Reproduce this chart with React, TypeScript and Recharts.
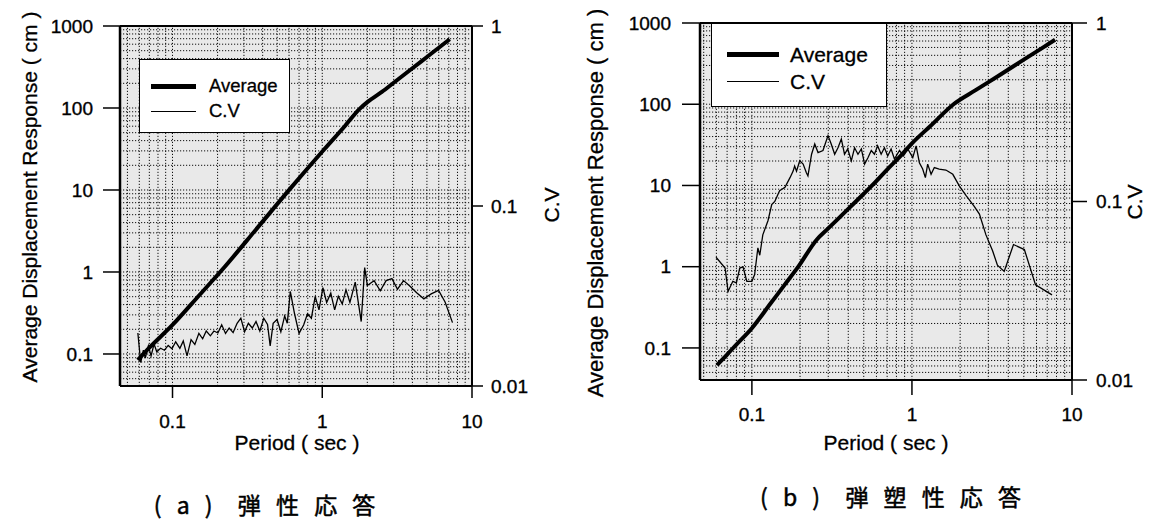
import { CartesianGrid, Line, LineChart, ReferenceLine, XAxis, YAxis } from 'recharts';

const font = '"Liberation Sans", Arial, Helvetica, sans-serif';
const cjkFont = '"Noto Sans CJK JP", "Noto Sans CJK SC", sans-serif';

// (a) elastic response
const avgPeriodA = [0.0587, 0.0706, 0.1, 0.152, 0.2227, 0.371, 0.617, 1.035, 1.413, 1.77, 2.0, 2.5, 3.0, 4.0, 5.0, 6.0, 7.1];
const avgA = [0.0845, 0.121, 0.226, 0.528, 1.15, 3.5, 10.6, 31.6, 60, 97, 118, 157, 203, 305, 419, 543, 690];

const cvPeriodA = [
  0.0587, 0.0613, 0.0639, 0.0658, 0.069, 0.0719, 0.0753, 0.0785, 0.0832, 0.0883, 0.0936, 0.0992,
  0.105, 0.112, 0.118, 0.125, 0.133, 0.141, 0.15, 0.159, 0.168, 0.179, 0.189, 0.201, 0.213, 0.226,
  0.239, 0.254, 0.27, 0.286, 0.303, 0.321, 0.341, 0.361, 0.383, 0.407, 0.431, 0.449, 0.47, 0.499,
  0.529, 0.561, 0.584, 0.612, 0.653, 0.7, 0.751, 0.797, 0.846, 0.897, 0.951, 1.01, 1.07, 1.14, 1.21,
  1.28, 1.36, 1.44, 1.53, 1.66, 1.82, 1.92, 2.0, 2.22, 2.44, 2.67, 2.92, 3.18, 3.49, 3.81, 4.27,
  4.77, 5.34, 5.98, 6.61, 7.41,
];
const cvA = [
  0.0197, 0.0135, 0.0158, 0.0143, 0.0167, 0.0147, 0.0171, 0.0155, 0.0162, 0.0158, 0.0168, 0.0161,
  0.0176, 0.0162, 0.0178, 0.0147, 0.0181, 0.017, 0.0196, 0.0183, 0.0202, 0.019, 0.0202, 0.0197, 0.0219, 0.0196,
  0.021, 0.0198, 0.0223, 0.0238, 0.02, 0.0223, 0.021, 0.0228, 0.0202, 0.0238, 0.022, 0.0167, 0.0223, 0.0234,
  0.02, 0.0245, 0.0223, 0.0335, 0.0252, 0.0196, 0.0218, 0.0252, 0.0238, 0.0315, 0.0265, 0.0352, 0.0291, 0.0328, 0.0265,
  0.0315, 0.0286, 0.0342, 0.0291, 0.0378, 0.0228, 0.0455, 0.0362, 0.0385, 0.0338, 0.0385, 0.0395, 0.0345, 0.0385, 0.0362, 0.033,
  0.0305, 0.0325, 0.034, 0.0293, 0.0225,
];

// (b) elasto-plastic response
const avgPeriodB = [0.0605, 0.07, 0.08, 0.1, 0.13, 0.16, 0.195, 0.254, 0.3, 0.4, 0.5, 0.564, 0.7, 0.85, 1.0, 1.3, 1.82, 2.5, 3.5, 5.0, 6.5, 7.84];
const avgB = [0.0616, 0.083, 0.11, 0.175, 0.347, 0.597, 1.0, 2.15, 2.96, 5.15, 7.9, 10, 15.7, 23.2, 33, 53.6, 100, 149, 226, 354, 491, 622];

const cvPeriodB = [
  0.0597, 0.068, 0.071, 0.076, 0.08, 0.084, 0.088, 0.093, 0.1, 0.104, 0.109, 0.112, 0.117, 0.126,
  0.133, 0.139, 0.149, 0.161, 0.173, 0.181, 0.185, 0.19, 0.199, 0.209, 0.219, 0.224, 0.236, 0.247,
  0.259, 0.278, 0.299, 0.313, 0.329, 0.345, 0.362, 0.379, 0.397, 0.418, 0.438, 0.46, 0.483, 0.506,
  0.531, 0.557, 0.583, 0.61, 0.642, 0.673, 0.706, 0.741, 0.777, 0.836, 0.885, 0.942, 1.012, 1.062,
  1.113, 1.167, 1.213, 1.254, 1.317, 1.38, 1.48, 1.63, 1.8, 1.98, 2.18, 2.45, 2.64, 2.9, 3.19, 3.42,
  3.77, 4.31, 5.04, 5.92, 7.5,
];
const cvB = [
  0.0487, 0.0424, 0.0313, 0.0357, 0.035, 0.0424, 0.043, 0.0357, 0.0357, 0.039, 0.055, 0.05, 0.065, 0.078,
  0.096, 0.1, 0.115, 0.12, 0.136, 0.148, 0.158, 0.148, 0.169, 0.162, 0.145, 0.139, 0.184, 0.21,
  0.188, 0.193, 0.234, 0.21, 0.184, 0.2, 0.224, 0.184, 0.197, 0.169, 0.2, 0.184, 0.197, 0.162,
  0.176, 0.193, 0.184, 0.205, 0.184, 0.2, 0.18, 0.197, 0.173, 0.193, 0.18, 0.197, 0.176, 0.205,
  0.165, 0.152, 0.136, 0.162, 0.142, 0.155, 0.152, 0.15, 0.142, 0.122, 0.108, 0.094, 0.085, 0.065, 0.053, 0.044,
  0.0406, 0.0574, 0.0538, 0.0341, 0.03,
];

const periodTicks = [0.1, 1, 10];
const dispTicks = [0.1, 1, 10, 100, 1000];
const cvTicks = [0.01, 0.1, 1];
const periodGrid = [0.05, 0.06, 0.07, 0.08, 0.09, 0.1, 0.2, 0.3, 0.4, 0.5, 0.6, 0.7, 0.8, 0.9, 1, 2, 3, 4, 5, 6, 7, 8, 9];
const dispGrid = [
  0.05, 0.06, 0.07, 0.08, 0.09, 0.1, 0.2, 0.3, 0.4, 0.5, 0.6, 0.7, 0.8, 0.9,
  1, 2, 3, 4, 5, 6, 7, 8, 9, 10, 20, 30, 40, 50, 60, 70, 80, 90,
  100, 200, 300, 400, 500, 600, 700, 800, 900,
];

const zip = (ts: number[], vs: number[]) => ts.map((t, i) => ({ t, v: vs[i] }));

interface PanelProps {
  left: number;
  width: number;
  top: number;
  leftAxisWidth: number;
  rightAxisWidth: number;
  xAxisHeight: number;
  periodMin: number;
  dispMin: number;
  avg: { t: number; v: number }[];
  cv: { t: number; v: number }[];
  leftTick: [number, number];
  rightTick: [number, number];
  bottomTick: [number, number];
  tickFont: number;
}

function Panel(p: PanelProps) {
  const tickStyle = { fontSize: p.tickFont, fill: '#000', fontFamily: font, stroke: '#000', strokeWidth: 0.35 };
  return (
    <div style={{ position: 'absolute', left: p.left, top: 0 }}>
      <LineChart width={p.width} height={520} margin={{ top: p.top, right: 0, bottom: 0, left: 0 }}>
        <CartesianGrid yAxisId="disp" horizontal={false} vertical={false} fill="#e9e9e9" />
        <XAxis
          dataKey="t"
          type="number"
          scale="log"
          domain={[p.periodMin, 10]}
          allowDataOverflow
          ticks={periodTicks}
          tickFormatter={(v) => String(v)}
          height={p.xAxisHeight}
          tickSize={p.bottomTick[0]}
          tickMargin={p.bottomTick[1]}
          tick={tickStyle}
          axisLine={{ stroke: '#000', strokeWidth: 2 }}
          tickLine={{ stroke: '#000', strokeWidth: 1.5 }}
        />
        <YAxis
          yAxisId="disp"
          type="number"
          scale="log"
          domain={[p.dispMin, 1000]}
          allowDataOverflow
          ticks={dispTicks}
          tickFormatter={(v) => String(v)}
          width={p.leftAxisWidth}
          tickSize={p.leftTick[0]}
          tickMargin={p.leftTick[1]}
          tick={tickStyle}
          axisLine={{ stroke: '#000', strokeWidth: 2.5 }}
          tickLine={{ stroke: '#000', strokeWidth: 1.5 }}
        />
        <YAxis
          yAxisId="cv"
          orientation="right"
          type="number"
          scale="log"
          domain={[0.01, 1]}
          allowDataOverflow
          ticks={cvTicks}
          tickFormatter={(v) => String(v)}
          width={p.rightAxisWidth}
          tickSize={p.rightTick[0]}
          tickMargin={p.rightTick[1]}
          tick={{ ...tickStyle, textAnchor: 'start' }}
          axisLine={{ stroke: '#000', strokeWidth: 2 }}
          tickLine={{ stroke: '#000', strokeWidth: 1.5 }}
        />
        {periodGrid.map((x) => (
          <ReferenceLine key={`x${x}`} x={x} yAxisId="disp" stroke="#111" strokeWidth={1} strokeDasharray="1.2 1.8" />
        ))}
        {dispGrid.map((y) => (
          <ReferenceLine key={`y${y}`} y={y} yAxisId="disp" stroke="#111" strokeWidth={1} strokeDasharray="1.2 1.8" />
        ))}
        <ReferenceLine y={1000} yAxisId="disp" stroke="#000" strokeWidth={2} />
        <Line
          data={p.cv}
          dataKey="v"
          yAxisId="cv"
          type="linear"
          stroke="#000"
          strokeWidth={1.3}
          dot={false}
          isAnimationActive={false}
        />
        <Line
          data={p.avg}
          dataKey="v"
          yAxisId="disp"
          type="monotone"
          stroke="#000"
          strokeWidth={4}
          dot={false}
          isAnimationActive={false}
        />
      </LineChart>
    </div>
  );
}

function Legend({ x, y, w, h, lineX, lineW, rowY, textX, size }: { x: number; y: number; w: number; h: number; lineX: number; lineW: number; rowY: [number, number]; textX: number; size: number }) {
  return (
    <div
      style={{
        position: 'absolute',
        left: x,
        top: y,
        width: w,
        height: h,
        boxSizing: 'border-box',
        border: '1.5px solid #000',
        background: '#fff',
        fontFamily: font,
        fontSize: size,
        color: '#000',
        WebkitTextStroke: '0.3px #000',
      }}
    >
      <div style={{ position: 'absolute', left: lineX, top: rowY[0] - 2.5, width: lineW, height: 5, background: '#000' }} />
      <div style={{ position: 'absolute', left: textX, top: rowY[0], transform: 'translateY(-50%)', lineHeight: 1 }}>Average</div>
      <div style={{ position: 'absolute', left: lineX, top: rowY[1] - 0.5, width: lineW, height: 1.3, background: '#000' }} />
      <div style={{ position: 'absolute', left: textX, top: rowY[1], transform: 'translateY(-50%)', lineHeight: 1 }}>C.V</div>
    </div>
  );
}

function Title({ text, cx, cy, size, rotate, family = font, spacing = 0, stroke = 0.3 }: { text: string; cx: number; cy: number; size: number; rotate?: boolean; family?: string; spacing?: number; stroke?: number }) {
  return (
    <div
      style={{
        position: 'absolute',
        left: cx,
        top: cy,
        transform: `translate(-50%, -50%)${rotate ? ' rotate(-90deg)' : ''}`,
        whiteSpace: 'pre',
        fontFamily: family,
        fontSize: size,
        letterSpacing: spacing,
        lineHeight: 1.2,
        color: '#000',
        WebkitTextStroke: `${stroke}px #000`,
      }}
    >
      {text}
    </div>
  );
}

export default function App() {
  return (
    <div style={{ position: 'absolute', left: 0, top: 0, width: 1158, height: 520, background: '#fff', overflow: 'hidden' }}>
      <Panel
        left={0}
        width={580}
        top={26}
        leftAxisWidth={120}
        rightAxisWidth={108}
        xAxisHeight={134}
        periodMin={0.0446}
        dispMin={0.0407}
        avg={zip(avgPeriodA, avgA)}
        cv={zip(cvPeriodA, cvA)}
        leftTick={[17, 10]}
        rightTick={[11, 8]}
        bottomTick={[12, 17]}
        tickFont={19}
      />
      <Panel
        left={580}
        width={578}
        top={23}
        leftAxisWidth={120}
        rightAxisWidth={86}
        xAxisHeight={140}
        periodMin={0.0474}
        dispMin={0.0403}
        avg={zip(avgPeriodB, avgB)}
        cv={zip(cvPeriodB, cvB)}
        leftTick={[18, 11]}
        rightTick={[15, 9]}
        bottomTick={[15, 13]}
        tickFont={19}
      />
      <Legend x={139} y={59} w={151} h={74} lineX={11} lineW={45} rowY={[26, 51]} textX={69} size={18.5} />
      <Legend x={711} y={23} w={176} h={84} lineX={15} lineW={52} rowY={[30, 57]} textX={78} size={21} />

      <Title text="Average Displacement Response ( cm )" cx={30} cy={197} size={21} rotate />
      <Title text="C.V" cx={552} cy={205} size={21} rotate />
      <Title text="Period ( sec )" cx={297} cy={443} size={21} />
      <Title text="( a )  弾 性 応 答" cx={267} cy={505} size={23} family={cjkFont} spacing={5} stroke={0.5} />

      <Title text="Average Displacement Response ( cm )" cx={596} cy={203} size={22} rotate />
      <Title text="C.V" cx={1135} cy={202} size={21} rotate />
      <Title text="Period ( sec )" cx={886} cy={443} size={21} />
      <Title text="( b )  弾 塑 性 応 答" cx={893} cy={497} size={23} family={cjkFont} spacing={5} stroke={0.5} />
    </div>
  );
}
